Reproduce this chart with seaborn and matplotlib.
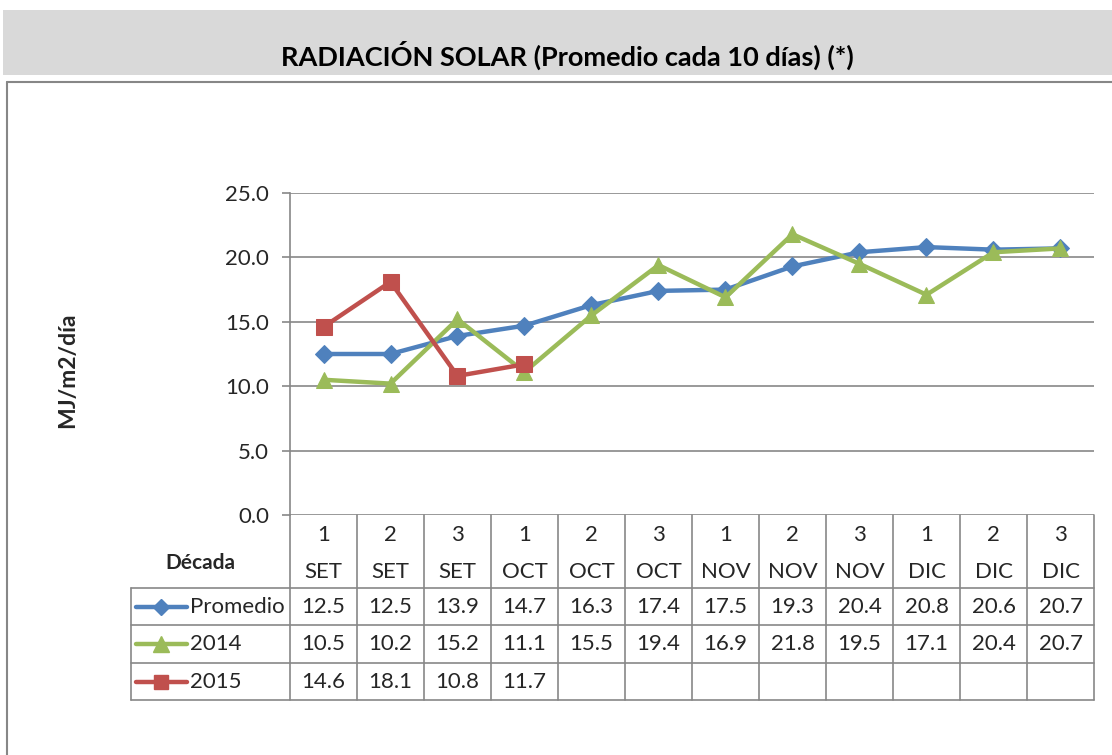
import matplotlib
matplotlib.use("Agg")
import matplotlib.pyplot as plt
import seaborn as sns
import pandas as pd
from matplotlib.lines import Line2D
from matplotlib.patches import Rectangle

sns.set_theme(style="white")
plt.rcParams['font.family'] = ['Lato', 'DejaVu Sans']

# ---- data ----
decades = ["1", "2", "3", "1", "2", "3", "1", "2", "3", "1", "2", "3"]
months = ["SET", "SET", "SET", "OCT", "OCT", "OCT", "NOV", "NOV", "NOV", "DIC", "DIC", "DIC"]
promedio = [12.5, 12.5, 13.9, 14.7, 16.3, 17.4, 17.5, 19.3, 20.4, 20.8, 20.6, 20.7]
y2014 = [10.5, 10.2, 15.2, 11.1, 15.5, 19.4, 16.9, 21.8, 19.5, 17.1, 20.4, 20.7]
y2015 = [14.6, 18.1, 10.8, 11.7, None, None, None, None, None, None, None, None]
series_names = ["Promedio", "2014", "2015"]
yticks = [0.0, 5.0, 10.0, 15.0, 20.0, 25.0]

colors = {"Promedio": "#4F81BD", "2014": "#9BBB59", "2015": "#C0504D"}
markers = {"Promedio": "D", "2014": "^", "2015": "s"}
msizes = {"Promedio": 9, "2014": 12, "2015": 11}
series_vals = {"Promedio": promedio, "2014": y2014, "2015": y2015}

W, H = 1112, 755
fig = plt.figure(figsize=(W / 100, H / 100), dpi=100)
fig.patch.set_facecolor("white")

def fx(px):
    return px / W

def fy(py):
    return 1 - py / H

gray = "#878787"
FS = 16

# title bar
fig.patches.append(Rectangle((fx(3), fy(75)), fx(1112) - fx(3), fy(10) - fy(75),
                             transform=fig.transFigure, facecolor="#D9D9D9", edgecolor="none", zorder=0))
fig.text(fx(567), fy(55), "RADIACIÓN SOLAR (Promedio cada 10 días) (*)", ha="center", va="center",
         fontsize=19.5, fontweight="bold", color="black")
# frame
fig.add_artist(Line2D([fx(7), fx(7)], [fy(82), fy(755)], transform=fig.transFigure, color=gray, lw=1.5))
fig.add_artist(Line2D([fx(7), fx(1112)], [fy(82), fy(82)], transform=fig.transFigure, color=gray, lw=1.5))

# plot axes
L, R, T, B = 290, 1094, 193, 515
ax = fig.add_axes([fx(L), fy(B), fx(R) - fx(L), fy(T) - fy(B)])
ax.set_facecolor("white")

n = len(decades)
rows = []
for name in series_names:
    for i, v in enumerate(series_vals[name]):
        rows.append({"x": i, "y": v, "serie": name})
df = pd.DataFrame(rows).dropna()

for name in series_names:
    sub = df[df["serie"] == name]
    sns.lineplot(data=sub, x="x", y="y", ax=ax, color=colors[name], lw=3.2,
                 marker=markers[name], markersize=msizes[name], markeredgecolor=colors[name],
                 legend=False, zorder=3)

ax.set_xlim(-0.5, n - 0.5)
ax.set_ylim(0, 25)
ax.set_yticks(yticks)
ax.set_yticklabels([f"{t:.1f}" for t in yticks], fontsize=FS)
ax.set_xticks([])
ax.set_xlabel("")
ax.set_ylabel("")
for t in yticks:
    ax.axhline(t, color=gray, lw=1.2, zorder=1)
for s in ["top", "right", "bottom"]:
    ax.spines[s].set_visible(False)
ax.spines["left"].set_color(gray)
ax.spines["left"].set_linewidth(1.2)
ax.tick_params(axis="y", length=6, color=gray, width=1.2, pad=9, left=True)

fig.text(fx(68), fy(370), "MJ/m2/día", rotation=90, ha="center", va="center",
         fontsize=16.5, fontweight="bold")

# ---- data table ----
colw = (R - L) / n
lines_kw = dict(transform=fig.transFigure, color=gray, lw=1.2)
for i in range(n + 1):
    x = L + i * colw
    fig.add_artist(Line2D([fx(x), fx(x)], [fy(B), fy(700)], **lines_kw))
fig.add_artist(Line2D([fx(131), fx(131)], [fy(588), fy(700)], **lines_kw))
for yy in [588, 625, 663, 700]:
    fig.add_artist(Line2D([fx(131), fx(R)], [fy(yy), fy(yy)], **lines_kw))

for i in range(n):
    cx = L + (i + 0.5) * colw
    fig.text(fx(cx), fy(535), decades[i], ha="center", va="center", fontsize=FS)
    fig.text(fx(cx), fy(572), months[i], ha="center", va="center", fontsize=FS)
fig.text(fx(200), fy(563), "Década", ha="center", va="center", fontsize=15, fontweight="bold")

row_cy = [607, 644, 682]
for r, name in enumerate(series_names):
    cy = row_cy[r]
    fig.add_artist(Line2D([fx(136), fx(187)], [fy(cy), fy(cy)], transform=fig.transFigure,
                          color=colors[name], lw=3.2))
    fig.add_artist(Line2D([fx(161)], [fy(cy)], transform=fig.transFigure, color=colors[name],
                          marker=markers[name], markersize=msizes[name] - 1, lw=0,
                          markeredgecolor=colors[name]))
    fig.text(fx(190), fy(cy), name, ha="left", va="center", fontsize=FS)
    for i, v in enumerate(series_vals[name]):
        if v is None:
            continue
        cx = L + (i + 0.5) * colw
        fig.text(fx(cx), fy(cy), f"{v:.1f}", ha="center", va="center", fontsize=FS)

fig.savefig("out.png", dpi=100, facecolor="white")
